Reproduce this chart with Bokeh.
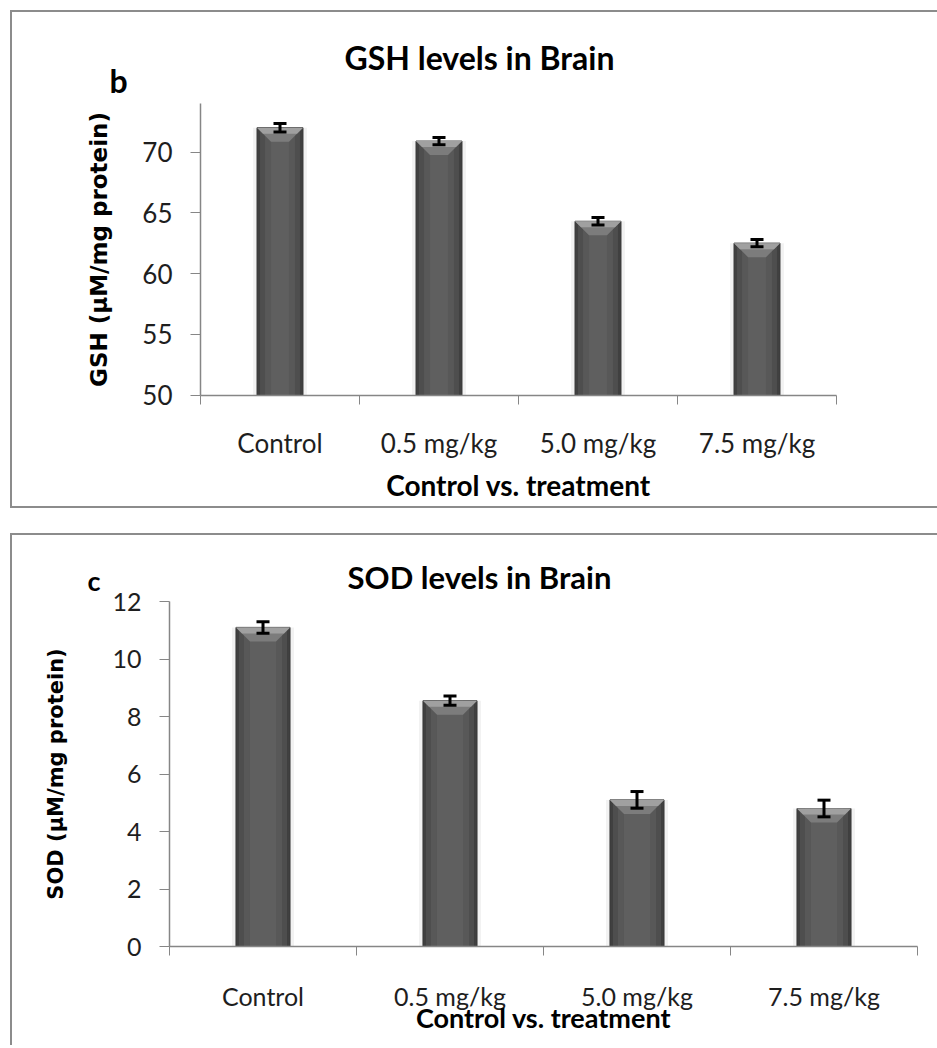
import numpy as np
from bokeh.plotting import figure
from bokeh.models import ColumnDataSource, Whisker, FixedTicker, Range1d, Label, TeeHead
from bokeh.layouts import column
from bokeh.embed import file_html
from bokeh.resources import INLINE

# ---------------- data ----------------
categories = ["Control", "0.5 mg/kg", "5.0 mg/kg", "7.5 mg/kg"]

gsh_values = [72.0, 70.9, 64.3, 62.5]
gsh_errors = [0.35, 0.30, 0.30, 0.30]
gsh_ticks = [50, 55, 60, 65, 70]
gsh_axis = (50, 74)

sod_values = [11.1, 8.55, 5.1, 4.8]
sod_errors = [0.20, 0.16, 0.29, 0.29]
sod_ticks = [0, 2, 4, 6, 8, 10, 12]
sod_axis = (0, 12)

BORDER = "2px solid #8c8c8c"


def make_panel(values, errors, yticks, axis_span, pxu, pyu, width, height,
               ax_x, ax_y, title, letter, ylabel,
               title_px, letter_px, fs, margin, styles,
               xlab_standoff, ylab_standoff, tick_standoff):
    """ax_x / ax_y: canvas pixel position of the axes' origin."""
    n = len(categories)
    ymin = axis_span[0]
    x0 = -ax_x / pxu
    x1 = (width - ax_x) / pxu
    y0 = ymin - (height - ax_y) / pyu
    y1 = ymin + ax_y / pyu
    p = figure(width=width, height=height,
               x_range=Range1d(x0, x1), y_range=Range1d(y0, y1),
               output_backend="svg", toolbar_location=None,
               min_border_left=0, min_border_right=0,
               min_border_top=0, min_border_bottom=0,
               margin=margin, styles=styles)
    p.title.visible = False
    p.outline_line_color = None
    p.grid.visible = False
    p.background_fill_color = "white"
    p.border_fill_color = "white"

    x = np.arange(n) + 0.5
    w = 0.289

    vals = np.array(values, dtype=float)
    errs = np.array(errors, dtype=float)
    src = ColumnDataSource(dict(x=x, top=vals, upper=vals + errs, lower=vals - errs))

    # soft shadow
    p.vbar(x="x", top="top", bottom=ymin, width=w + 8 / pxu, source=src,
           fill_color="#000000", fill_alpha=0.05, line_color=None)
    # bar body with horizontal shading
    p.vbar(x="x", top="top", bottom=ymin, width=w, source=src,
           fill_color="#404040", line_color="#383838", line_width=1)
    p.vbar(x="x", top="top", bottom=ymin, width=w - 6 / pxu, source=src,
           fill_color="#4e4e4e", line_color=None)
    p.vbar(x="x", top="top", bottom=ymin, width=w - 16 / pxu, source=src,
           fill_color="#585858", line_color=None)
    p.vbar(x="x", top="top", bottom=ymin, width=w - 28 / pxu, source=src,
           fill_color="#5f5f5f", line_color=None)

    # bevel on top
    d = 14 / pxu
    h = 14 / pyu
    xs = [[xi - w / 2, xi + w / 2, xi + w / 2 - d, xi - w / 2 + d] for xi in x]
    ys = [[v, v, v - h, v - h] for v in vals]
    p.patches(xs, ys, fill_color="#7c7c7c", line_color=None)
    d2 = 6 / pxu
    h2 = 6 / pyu
    xs2 = [[xi - w / 2, xi + w / 2, xi + w / 2 - d2, xi - w / 2 + d2] for xi in x]
    ys2 = [[v, v, v - h2, v - h2] for v in vals]
    p.patches(xs2, ys2, fill_color="#a0a0a0", line_color=None)

    # error bars (drawn above the bars)
    wh = Whisker(base="x", upper="upper", lower="lower", source=src,
                 line_color="black", line_width=3, level="annotation",
                 upper_head=TeeHead(size=13, line_width=3, line_color="black"),
                 lower_head=TeeHead(size=13, line_width=3, line_color="black"))
    p.add_layout(wh)

    # axes
    ax_col = "#868686"
    p.yaxis.fixed_location = 0
    p.yaxis.ticker = FixedTicker(ticks=yticks)
    p.yaxis.bounds = axis_span
    p.yaxis.minor_tick_line_color = None
    p.yaxis.major_tick_out = 10
    p.yaxis.major_tick_in = 0
    p.yaxis.major_tick_line_color = ax_col
    p.yaxis.axis_line_color = ax_col
    p.yaxis.axis_line_width = 1.5
    p.yaxis.major_label_text_font = "Lato"
    p.yaxis.major_label_text_font_size = fs["tick"]
    p.yaxis.major_label_text_color = "#1e1e1e"
    p.yaxis.major_label_standoff = 18
    p.yaxis.axis_label = ylabel
    p.yaxis.axis_label_text_font = "DejaVu Sans"
    p.yaxis.axis_label_text_font_style = "bold"
    p.yaxis.axis_label_text_font_size = fs["ylab"]
    p.yaxis.axis_label_text_color = "black"
    p.yaxis.axis_label_standoff = ylab_standoff

    p.xaxis.fixed_location = ymin
    p.xaxis.ticker = FixedTicker(ticks=list(x), minor_ticks=list(range(n + 1)))
    p.xaxis.bounds = (0, n)
    p.xaxis.major_label_overrides = {float(xi): c for xi, c in zip(x, categories)}
    p.xaxis.major_tick_line_color = None
    p.xaxis.major_tick_out = 0
    p.xaxis.major_tick_in = 0
    p.xaxis.minor_tick_line_color = ax_col
    p.xaxis.minor_tick_out = 9
    p.xaxis.minor_tick_in = 0
    p.xaxis.axis_line_color = ax_col
    p.xaxis.axis_line_width = 1.5
    p.xaxis.major_label_text_font = "Lato"
    p.xaxis.major_label_text_font_size = fs["tick"]
    p.xaxis.major_label_text_color = "#1e1e1e"
    p.xaxis.major_label_standoff = tick_standoff
    p.xaxis.axis_label = "Control vs. treatment"
    p.xaxis.axis_label_text_font = "Lato"
    p.xaxis.axis_label_text_font_style = "bold"
    p.xaxis.axis_label_text_font_size = fs["xlab"]
    p.xaxis.axis_label_text_color = "black"
    p.xaxis.axis_label_standoff = xlab_standoff

    # title and panel letter (positions given in canvas pixels -> data units)
    def to_data(px, py):
        return ((px - ax_x) / pxu, ymin + (ax_y - py) / pyu)

    tx, ty = to_data(*title_px)
    p.add_layout(Label(x=tx, y=ty, text=title, text_font="Lato",
                       text_font_style="bold", text_font_size=fs["title"],
                       text_align="center", text_baseline="alphabetic",
                       text_color="black"))
    lx, ly = to_data(*letter_px)
    p.add_layout(Label(x=lx, y=ly, text=letter, text_font="Lato",
                       text_font_style="bold", text_font_size=fs["letter"],
                       text_align="left", text_baseline="alphabetic",
                       text_color="black"))
    return p


p1 = make_panel(gsh_values, gsh_errors, gsh_ticks, gsh_axis, pxu=159.0, pyu=12.15,
                width=927, height=498, ax_x=188, ax_y=382.5,
                title="GSH levels in Brain", letter="b",
                ylabel="GSH (\u00b5M/mg protein)",
                title_px=(467, 45), letter_px=(97, 68),
                fs=dict(tick="26px", ylab="23px", xlab="28px", title="32px", letter="32px"),
                margin=(10, 0, 0, 10),
                styles={"border-left": BORDER, "border-top": BORDER, "border-bottom": BORDER},
                xlab_standoff=5, ylab_standoff=27, tick_standoff=23)

p2 = make_panel(sod_values, sod_errors, sod_ticks, sod_axis, pxu=187.0, pyu=28.75,
                width=927, height=512, ax_x=157, ax_y=411,
                title="SOD levels in Brain", letter="c",
                ylabel="SOD (\u00b5M/mg protein)",
                title_px=(467, 41), letter_px=(75, 45),
                fs=dict(tick="25px", ylab="21px", xlab="27px", title="31px", letter="27px"),
                margin=(25, 0, 0, 10),
                styles={"border-left": BORDER, "border-top": BORDER},
                xlab_standoff=-13, ylab_standoff=41, tick_standoff=25)

layout = column(p1, p2)
open("out.html", "w").write(file_html(layout, INLINE))
